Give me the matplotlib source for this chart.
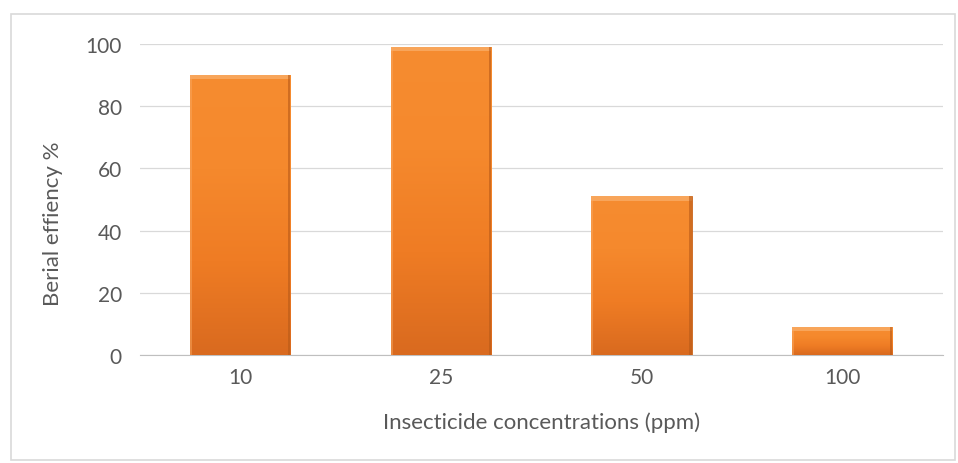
import numpy as np
import matplotlib
matplotlib.use('Agg')
import matplotlib.pyplot as plt
from matplotlib.patches import Rectangle

categories = ['10', '25', '50', '100']
efficiency = [90, 99, 51, 9]
yticks = [0, 20, 40, 60, 80, 100]

plt.rcParams['font.family'] = ['Lato', 'DejaVu Sans']

fig = plt.figure(figsize=(9.58, 4.64), dpi=100)
# outer chart border
fig.patches.append(Rectangle((0.011, 0.006), 0.986, 0.962, transform=fig.transFigure,
                             fill=False, edgecolor='#d9d9d9', linewidth=1.2))

ax = fig.add_axes([0.146, 0.233, 0.838, 0.670])
x = np.arange(len(categories))
bars = ax.bar(x, efficiency, width=0.5, color='#f4852a', edgecolor='#c9641c',
              linewidth=0.6, zorder=3)

# vertical gradient + bevel on each bar
grad = np.linspace(0, 1, 256).reshape(-1, 1)
cmap = matplotlib.colors.LinearSegmentedColormap.from_list(
    'o', ['#d96a1f', '#ef7c24', '#f5892d', '#f68c30'])
for b in bars:
    x0, w, h = b.get_x(), b.get_width(), b.get_height()
    im = ax.imshow(grad, extent=(x0, x0 + w, 0, h), origin='lower', cmap=cmap,
                   aspect='auto', zorder=3.5)
    im.set_clip_path(b)
    ax.add_patch(Rectangle((x0, h - 1.4), w, 1.4, color='#f8a55a', zorder=4, lw=0))
    ax.add_patch(Rectangle((x0 + w * 0.975, 0), w * 0.025, h, color='#b85a18',
                           zorder=4, lw=0, alpha=0.6))
    ax.add_patch(Rectangle((x0, 0), w * 0.02, h, color='#f9a860',
                           zorder=4, lw=0, alpha=0.5))

ax.set_xlim(-0.5, len(categories) - 0.5)
ax.set_ylim(0, 100)
ax.set_yticks(yticks)
ax.set_xticks(x)
ax.set_xticklabels(categories)
ax.grid(axis='y', color='#d9d9d9', linewidth=0.9, zorder=0)
for s in ['top', 'right', 'left']:
    ax.spines[s].set_visible(False)
ax.spines['bottom'].set_color('#bfbfbf')
ax.tick_params(axis='both', length=0, colors='#595959', labelsize=15)
ax.tick_params(axis='y', pad=13)
ax.tick_params(axis='x', pad=9)
ax.set_ylabel('Berial effiency %', fontsize=16, color='#595959', va='center')
ax.yaxis.set_label_coords(-0.108, 0.424)
ax.set_xlabel('Insecticide concentrations (ppm)', fontsize=16, color='#595959',
              va='center')
ax.xaxis.set_label_coords(0.5, -0.215)

fig.savefig('out.png', dpi=100)
